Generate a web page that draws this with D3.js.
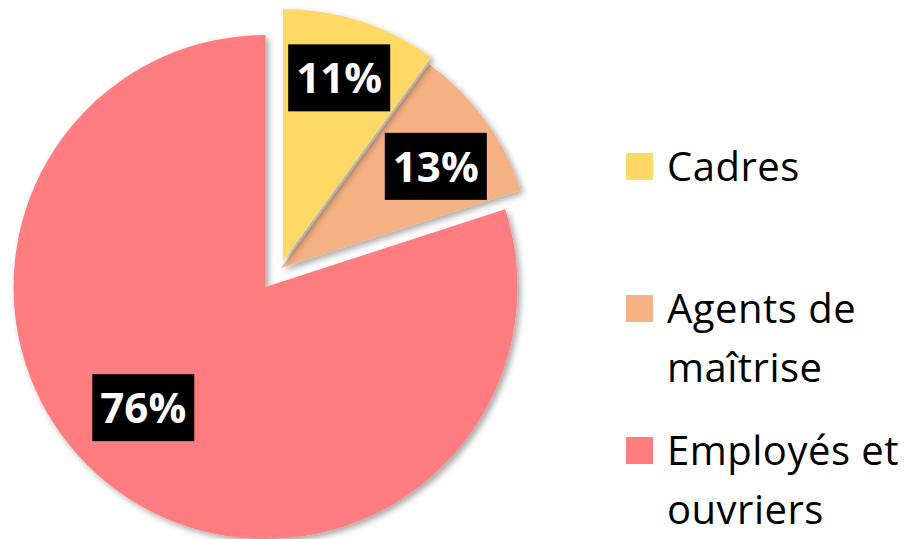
<!DOCTYPE html>
<html>
<head>
<meta charset="utf-8">
<script src="https://cdn.jsdelivr.net/npm/d3@7"></script>
<style>
  body { margin: 0; background: #fff; }
</style>
</head>
<body>
<div id="chart-area"></div>
<script>
// data
var categories = ["Cadres", "Agents de maîtrise", "Employés et ouvriers"];
var shares = [10, 10, 80];          // slice sizes as drawn
var labels = ["11%", "13%", "76%"]; // printed data labels
var legendLines = [["Cadres"], ["Agents de", "maîtrise"], ["Employés et", "ouvriers"]];
var colors = ["#FFD966", "#F4B183", "#FF7C80"];

var width = 913, height = 539;
var radius = 252;
var cx = 265.5, cy = 287;
// explode offsets for each slice
var explode = [[17.5, -26], [15.5, -19], [0, 0]];
var labelR = [0.76, 0.72, 0.69];
var labelNudge = [[-3, -1], [8, 5], [-20, -20]];

var svg = d3.select("#chart-area")
    .append("svg")
    .attr("width", width)
    .attr("height", height);

var defs = svg.append("defs");
var filt = defs.append("filter").attr("id", "shadow")
    .attr("x", "-10%").attr("y", "-10%").attr("width", "130%").attr("height", "130%");
filt.append("feDropShadow")
    .attr("dx", 3).attr("dy", 3)
    .attr("stdDeviation", 3)
    .attr("flood-color", "#000")
    .attr("flood-opacity", 0.35);

var pie = d3.pie().sort(null).value(function(d) { return d; });
var arcs = pie(shares);
var arc = d3.arc().innerRadius(0).outerRadius(radius);

var g = svg.append("g").attr("transform", "translate(" + cx + "," + cy + ")");

// draw red first, then orange, then yellow on top
var order = [2, 1, 0];
order.forEach(function(i) {
    g.append("path")
        .attr("d", arc(arcs[i]))
        .attr("fill", colors[i])
        .attr("filter", "url(#shadow)")
        .attr("transform", "translate(" + explode[i][0] + "," + explode[i][1] + ")");
});

// data labels
arcs.forEach(function(a, i) {
    var mid = (a.startAngle + a.endAngle) / 2;
    var r = radius * labelR[i];
    var x = explode[i][0] + Math.sin(mid) * r + labelNudge[i][0];
    var y = explode[i][1] - Math.cos(mid) * r + labelNudge[i][1];
    var lg = g.append("g").attr("transform", "translate(" + x + "," + y + ")");
    var bw = 102, bh = 67;
    lg.append("rect").attr("fill", "#000")
        .attr("x", -bw / 2).attr("y", -bh / 2).attr("width", bw).attr("height", bh);
    lg.append("text")
        .attr("text-anchor", "middle")
        .attr("y", 15.5)
        .attr("fill", "#fff")
        .attr("font-family", "'Open Sans', sans-serif")
        .attr("font-weight", "bold")
        .attr("font-size", "42px")
        .text(labels[i]);
});

// legend
var legendY = [181, 323, 465];
var legend = svg.append("g");
categories.forEach(function(c, i) {
    legend.append("rect")
        .attr("x", 626).attr("y", legendY[i] - 28)
        .attr("width", 27).attr("height", 27)
        .attr("fill", colors[i]);
    var txt = legend.append("text")
        .attr("x", 667).attr("y", legendY[i])
        .attr("font-family", "'Open Sans', sans-serif")
        .attr("font-size", "40px")
        .attr("letter-spacing", "0.5px")
        .attr("fill", "#000");
    legendLines[i].forEach(function(line, j) {
        txt.append("tspan")
            .attr("x", 667)
            .attr("dy", j === 0 ? 0 : 59)
            .text(line);
    });
});
</script>
</body>
</html>
